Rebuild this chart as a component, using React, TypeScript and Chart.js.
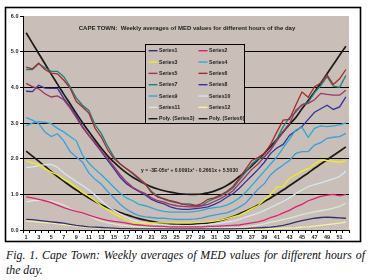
import React, { useEffect, useRef } from "react";
import { Chart, registerables } from "chart.js";
Chart.register(...registerables);

const weeks = ["1","2","3","4","5","6","7","8","9","10","11","12","13","14","15","16","17","18","19","20","21","22","23","24","25","26","27","28","29","30","31","32","33","34","35","36","37","38","39","40","41","42","43","44","45","46","47","48","49","50","51","52"];
const yTicks = ["0.0","1.0","2.0","3.0","4.0","5.0","6.0"];

const series1 = [0.30,0.29,0.27,0.25,0.23,0.21,0.19,0.16,0.13,0.11, 0.09,0.08,0.07,0.06,0.05,0.04,0.04,0.03,0.03,0.03, 0.03,0.03,0.03,0.03,0.03,0.03,0.03,0.03,0.03,0.03, 0.03,0.03,0.03,0.03,0.04,0.04,0.05,0.06,0.07,0.08, 0.10,0.13,0.17,0.22,0.26,0.30,0.33,0.35,0.36,0.35, 0.34,0.33];
const series2 = [0.93,0.90,0.86,0.82,0.77,0.70,0.63,0.57,0.52,0.48, 0.42,0.36,0.31,0.27,0.24,0.22,0.19,0.16,0.14,0.12, 0.11,0.10,0.10,0.09,0.09,0.09,0.09,0.09,0.09,0.10, 0.10,0.11,0.12,0.13,0.14,0.17,0.20,0.23,0.28,0.35, 0.40,0.48,0.55,0.65,0.72,0.82,0.88,0.94,0.98,1.00, 0.96,1.00];
const series3 = [1.93,1.88,1.84,1.72,1.62,1.55,1.42,1.32,1.20,1.05, 0.95,0.82,0.68,0.56,0.46,0.37,0.28,0.22,0.18,0.18, 0.20,0.20,0.20,0.20,0.20,0.20,0.20,0.21,0.22,0.23, 0.25,0.28,0.32,0.37,0.42,0.50,0.60,0.68,0.85,1.00, 1.20,1.22,1.45,1.55,1.65,1.72,1.85,1.96,1.95,1.92, 1.90,1.93];
const series4 = [2.92,3.00,3.04,3.02,2.98,2.85,2.75,2.62,2.50,2.10, 1.88,1.70,1.55,1.38,1.20,1.03,0.90,0.82,0.72,0.68, 0.62,0.56,0.52,0.50,0.50,0.50,0.50,0.52,0.55,0.60, 0.63,0.65,0.70,0.78,0.90,1.05,1.25,1.45,1.65,1.85, 2.05,2.30,2.55,2.80,2.88,2.60,2.85,2.92,2.90,2.92, 2.95,3.00];
const series5 = [4.11,4.02,3.96,3.82,3.73,3.76,3.65,3.42,3.15,2.87, 2.65,2.45,2.22,2.00,1.78,1.55,1.35,1.20,1.10,1.02, 0.90,0.82,0.78,0.72,0.68,0.66,0.65,0.65,0.68,0.72, 0.80,0.88,0.98,1.10,1.30,1.50,1.70,1.85,2.05,2.25, 2.50,2.75,2.98,3.35,3.50,3.55,3.65,3.83,3.80,3.78, 3.78,3.92];
const series6 = [4.57,4.52,4.68,4.50,4.40,4.38,4.20,3.98,3.60,3.45, 3.28,2.85,2.60,2.25,2.00,1.85,1.72,1.60,1.45,1.30, 1.05,0.92,0.88,0.82,0.78,0.72,0.70,0.68,0.74,0.86, 0.90,0.98,1.08,1.22,1.45,1.70,1.95,2.03,2.15,2.40, 2.75,3.08,3.10,3.50,3.87,3.72,4.02,4.12,4.35,4.08, 4.24,4.50];
const series7 = [4.50,4.50,4.66,4.55,4.45,4.45,4.30,4.02,3.70,3.50, 3.35,2.95,2.70,2.35,2.05,1.85,1.72,1.58,1.42,1.28, 1.08,0.95,0.86,0.80,0.76,0.73,0.73,0.70,0.68,0.80, 0.88,0.95,1.05,1.18,1.40,1.62,1.85,2.00,2.05,2.25, 2.55,2.90,3.15,3.30,3.52,3.58,3.85,4.05,4.30,4.03, 4.00,4.33];
const series8 = [3.89,3.88,4.06,3.98,3.97,3.97,3.69,3.45,3.20,2.90, 2.65,2.42,2.20,1.95,1.72,1.48,1.30,1.18,1.08,0.98, 0.86,0.78,0.73,0.65,0.60,0.58,0.58,0.60,0.62,0.65, 0.72,0.80,0.92,1.02,1.17,1.35,1.52,1.70,1.90,2.15, 2.30,2.40,2.65,2.78,2.90,3.10,3.30,3.40,3.50,3.38, 3.45,3.73];
const series9 = [3.15,3.08,2.98,2.75,2.62,2.70,2.50,2.20,2.05,1.90, 1.60,1.42,1.28,1.08,0.90,0.72,0.58,0.48,0.40,0.37, 0.35,0.33,0.33,0.31,0.30,0.30,0.30,0.31,0.33,0.38, 0.42,0.45,0.48,0.55,0.64,0.75,0.95,1.15,1.30,1.55, 1.70,1.82,1.95,2.15,2.20,2.20,2.38,2.45,2.57,2.60, 2.62,2.71];
const series10 = [1.75,1.77,1.80,1.83,1.84,1.76,1.60,1.48,1.36,1.25, 1.12,0.98,0.82,0.66,0.55,0.45,0.35,0.28,0.23,0.20, 0.17,0.15,0.14,0.13,0.13,0.12,0.12,0.13,0.14,0.15, 0.17,0.19,0.22,0.25,0.30,0.36,0.42,0.47,0.55,0.63, 0.72,0.80,0.90,1.02,1.12,1.22,1.27,1.32,1.38,1.43, 1.50,1.65];
const series11 = [0.79,0.82,0.84,0.83,0.81,0.76,0.70,0.60,0.53,0.47, 0.40,0.32,0.25,0.20,0.17,0.14,0.12,0.10,0.09,0.08, 0.07,0.06,0.06,0.05,0.05,0.05,0.05,0.05,0.05,0.05, 0.06,0.06,0.06,0.06,0.07,0.09,0.11,0.14,0.17,0.22, 0.25,0.29,0.33,0.38,0.43,0.47,0.51,0.54,0.57,0.61, 0.66,0.75];
const series12 = [0.25,0.24,0.22,0.21,0.19,0.17,0.15,0.13,0.11,0.09, 0.07,0.06,0.05,0.04,0.03,0.03,0.02,0.02,0.02,0.02, 0.02,0.02,0.02,0.02,0.02,0.02,0.02,0.02,0.02,0.02, 0.02,0.02,0.02,0.02,0.02,0.02,0.02,0.02,0.03,0.03, 0.04,0.05,0.05,0.06,0.08,0.09,0.11,0.13,0.15,0.17, 0.19,0.22];
const polySeries3 = [2.21,2.07,1.93,1.79,1.64,1.50,1.37,1.24,1.12,1.01, 0.90,0.80,0.71,0.63,0.56,0.49,0.43,0.37,0.32,0.28, 0.24,0.21,0.19,0.17,0.16,0.16,0.16,0.17,0.18,0.20, 0.23,0.27,0.32,0.38,0.45,0.53,0.61,0.70,0.80,0.90, 1.01,1.12,1.24,1.36,1.48,1.60,1.73,1.85,1.97,2.09, 2.21,2.33];
const polySeries6 = [5.53,5.24,4.95,4.66,4.37,4.09,3.81,3.54,3.27,3.01, 2.76,2.52,2.29,2.08,1.90,1.74,1.60,1.48,1.38,1.29, 1.21,1.15,1.10,1.06,1.03,1.01,1.00,1.00,1.01,1.04, 1.09,1.16,1.25,1.36,1.50,1.64,1.80,1.97,2.15,2.34, 2.54,2.75,2.96,3.15,3.40,3.63,3.87,4.12,4.38,4.64, 4.90,5.15];

const seriesLabels = ["Series1","Series2","Series3","Series4","Series5","Series6","Series7","Series8","Series9","Series10","Series11","Series12","Poly. (Series3)","Poly. (Series6)"];
const seriesValues = [series1,series2,series3,series4,series5,series6,series7,series8,series9,series10,series11,series12,polySeries3,polySeries6];
const seriesColors = ["#30306e","#e61c74","#f2ee10","#2aaad8","#9e3462","#a82a2a","#1a8080","#34309e","#3a9ee0","#d2e8f2","#dae8d2","#f6f0a4","#1a1a1a","#1a1a1a"];

const titleText = "CAPE TOWN:  Weekly averages of MED values for different hours of the day";
const equationText = "y = -3E-05x\u00b3 + 0.0091x\u00b2 - 0.2661x + 5.5030";
const captionLine1 = "Fig. 1. Cape Town: Weekly averages of MED values for different hours of";
const captionLine2 = "the day.";

const PLOT_BG = "#c9bfb8";
const FONT = "'Liberation Sans', Arial, sans-serif";

export default function App() {
  const ref = useRef<HTMLCanvasElement>(null);
  useEffect(() => {
    document.body.style.margin = "0";
    const canvas = ref.current!;
    const decor = {
      id: "decor",
      beforeDraw(chart: any) {
        const { ctx, chartArea: a } = chart;
        ctx.save();
        ctx.fillStyle = "#ffffff";
        ctx.fillRect(0, 0, chart.width, chart.height);
        ctx.fillStyle = PLOT_BG;
        ctx.fillRect(a.left, a.top, a.right - a.left, a.bottom - a.top);
        ctx.strokeStyle = "#000";
        ctx.lineWidth = 1.6;
        ctx.strokeRect(5.5, 7.5, 355, 234);
        ctx.restore();
      },
      afterDraw(chart: any) {
        const { ctx, chartArea: a } = chart;
        ctx.save();
        ctx.fillStyle = "#222";
        ctx.textAlign = "center";
        ctx.textBaseline = "middle";
        ctx.font = `bold 6px ${FONT}`;
        ctx.fillText(titleText, (a.left + a.right) / 2 + 1, 28);
        ctx.font = `bold 5px ${FONT}`;
        ctx.fillText(equationText, 189.5, 170.5);
        // legend box
        const bx = 145.5, by = 44.5, bw = 99, bh = 79;
        ctx.fillStyle = PLOT_BG;
        ctx.fillRect(bx, by, bw, bh);
        ctx.strokeStyle = "#000";
        ctx.lineWidth = 1;
        ctx.strokeRect(bx, by, bw, bh);
        ctx.textAlign = "left";
        ctx.font = `bold 5.2px ${FONT}`;
        chart.data.datasets.forEach((ds: any, i: number) => {
          const row = Math.floor(i / 2);
          const col = i % 2;
          const y = 50.7 + row * 11.33;
          const x0 = col === 0 ? 148.5 : 198.5;
          ctx.strokeStyle = ds.borderColor;
          ctx.lineWidth = 1.4;
          ctx.beginPath();
          ctx.moveTo(x0, y);
          ctx.lineTo(x0 + 9, y);
          ctx.stroke();
          ctx.fillStyle = "#222";
          ctx.fillText(ds.label, x0 + 10.5, y + 0.3);
        });
        ctx.restore();
      },
    };
    const chart = new Chart(canvas, {
      type: "line",
      data: {
        labels: weeks,
        datasets: seriesValues.map((vals, i) => {
          const poly = i >= 12;
          return {
            label: seriesLabels[i],
            data: vals,
            borderColor: seriesColors[i],
            backgroundColor: seriesColors[i],
            borderWidth: poly ? 1.7 : 1.3,
            pointRadius: 0,
            fill: false,
            tension: poly ? 0.4 : 0,
            cubicInterpolationMode: poly ? "monotone" : "default",
          };
        }),
      },
      options: {
        animation: false,
        responsive: false,
        devicePixelRatio: 1,
        layout: { padding: { top: 16, right: 22, left: 0, bottom: 0 } },
        plugins: { legend: { display: false }, title: { display: false }, tooltip: { enabled: false } },
        scales: {
          x: {
            type: "category",
            offset: true,
            afterFit: (s: any) => { s.height = 15; },
            grid: { display: true, drawOnChartArea: false, tickLength: 3, color: "#000", offset: true },
            border: { color: "#000", width: 1 },
            ticks: {
              autoSkip: false,
              maxRotation: 0,
              minRotation: 0,
              padding: 1,
              color: "#222",
              font: { family: FONT, size: 5.5, weight: "bold" },
              callback: (_v: any, idx: number) => (idx % 2 === 0 ? weeks[idx] : ""),
            },
          },
          y: {
            min: 0,
            max: 6,
            afterFit: (s: any) => { s.width = 23; },
            grid: {
              color: (c: any) => (c.tick && (c.tick.value === 6 || c.tick.value === 0) ? "rgba(0,0,0,0)" : "#000"),
              tickColor: "#000",
              tickLength: 3,
              lineWidth: 1,
            },
            border: { color: "#000", width: 1 },
            ticks: {
              stepSize: 1,
              padding: 1.5,
              color: "#222",
              font: { family: FONT, size: 5.5, weight: "bold" },
              callback: (v: any) => yTicks[Math.round(Number(v))],
            },
          },
        },
      },
      plugins: [decor],
    } as any);
    return () => chart.destroy();
  }, []);

  return (
    <div style={{ position: "relative", width: 371, height: 280, background: "#fff", overflow: "hidden" }}>
      <canvas ref={ref} width={371} height={245} style={{ position: "absolute", left: 0, top: 0, display: "block" }} />
      <div style={{ position: "absolute", left: 6, top: 248, width: 359, fontFamily: "'Liberation Serif', 'Times New Roman', serif", fontStyle: "italic", fontSize: 11.8, lineHeight: "15px", color: "#111" }}>
        <div style={{ textAlign: "justify", textAlignLast: "justify" }}>{captionLine1}</div>
        <div>{captionLine2}</div>
      </div>
    </div>
  );
}
